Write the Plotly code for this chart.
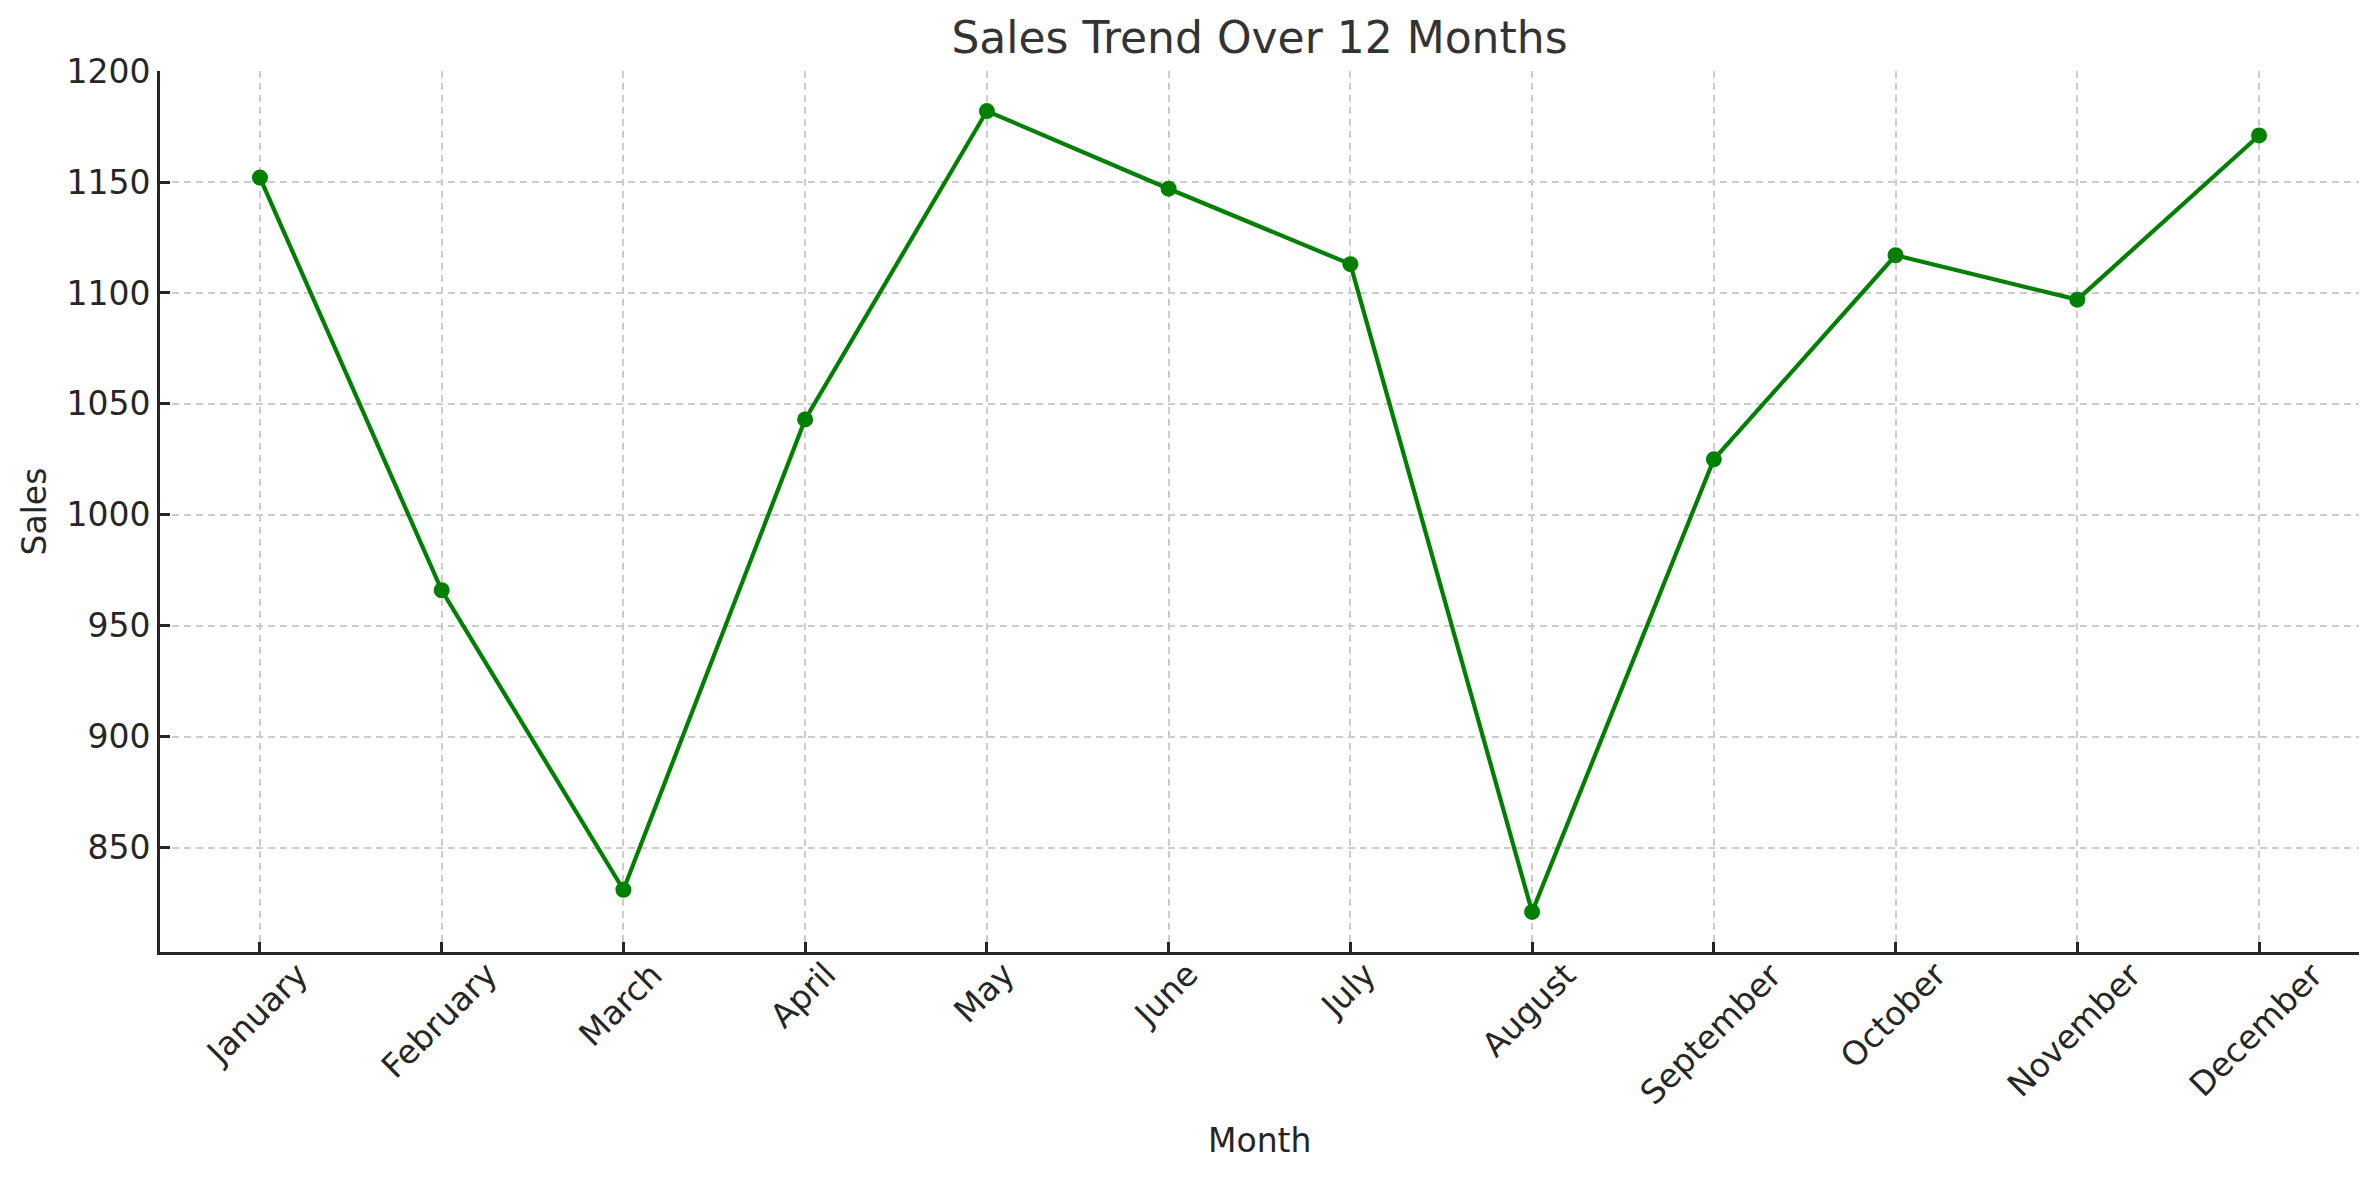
import plotly.graph_objects as go

months = ["January", "February", "March", "April", "May", "June",
          "July", "August", "September", "October", "November", "December"]
sales = [1152, 966, 831, 1043, 1182, 1147, 1113, 821, 1025, 1117, 1097, 1171]
y_ticks = [850, 900, 950, 1000, 1050, 1100, 1150, 1200]

# page body has an 8px margin; size the figure so the plot area lands where the reference has it
W, H = 2363, 1164
L, R, T, B = 152, 12, 63, 220
FONT = "DejaVu Sans"
TXT = "#262626"

fig = go.Figure()
fig.add_trace(go.Scatter(
    x=months, y=sales, mode="lines+markers",
    line=dict(color="#008000", width=4.2),
    marker=dict(color="#008000", size=16),
    showlegend=False,
))

# rotated x tick labels (centered under ticks, like matplotlib rotation=45)
for m in months:
    fig.add_annotation(x=m, xref="x", y=0, yref="paper", text=m,
                       showarrow=False, textangle=-45,
                       xanchor="center", yanchor="top", yshift=0, xshift=-3,
                       font=dict(family=FONT, size=33, color=TXT))

fig.add_annotation(x=0.5, xref="paper", y=0, yref="paper", text="Month",
                   showarrow=False, xanchor="center", yanchor="middle",
                   yshift=-188, font=dict(family=FONT, size=33, color=TXT))
fig.add_annotation(x=0, xref="paper", y=0.5, yref="paper", text="Sales",
                   showarrow=False, textangle=-90, xanchor="center",
                   yanchor="middle", xshift=-126,
                   font=dict(family=FONT, size=33, color=TXT))

fig.update_layout(
    width=W, height=H,
    margin=dict(l=L, r=R, t=T, b=B),
    paper_bgcolor="white", plot_bgcolor="white",
    title=dict(text="Sales Trend Over 12 Months", x=0.5, xref="paper",
               xanchor="center", y=1 - 30 / H, yref="container", yanchor="middle",
               font=dict(family=FONT, size=44, color="#333333")),
    font=dict(family=FONT, size=33, color=TXT),
)
fig.update_xaxes(
    type="category", range=[-0.55, 11.55],
    showticklabels=False,
    showline=True, linecolor=TXT, linewidth=3, mirror=False,
    ticks="inside", ticklen=10, tickwidth=2.5, tickcolor=TXT,
    showgrid=True, gridcolor="#cccccc", gridwidth=2, griddash="7px,5px",
    zeroline=False,
)
fig.update_yaxes(
    range=[802.95, 1200.05], tickvals=y_ticks,
    ticktext=[str(v) for v in y_ticks],
    showline=True, linecolor=TXT, linewidth=3,
    ticks="inside", ticklen=10, tickwidth=2.5, tickcolor=TXT,
    tickfont=dict(family=FONT, size=33, color=TXT),
    showgrid=True, gridcolor="#cccccc", gridwidth=2, griddash="7px,5px",
    zeroline=False,
)

fig.write_html("out.html")
